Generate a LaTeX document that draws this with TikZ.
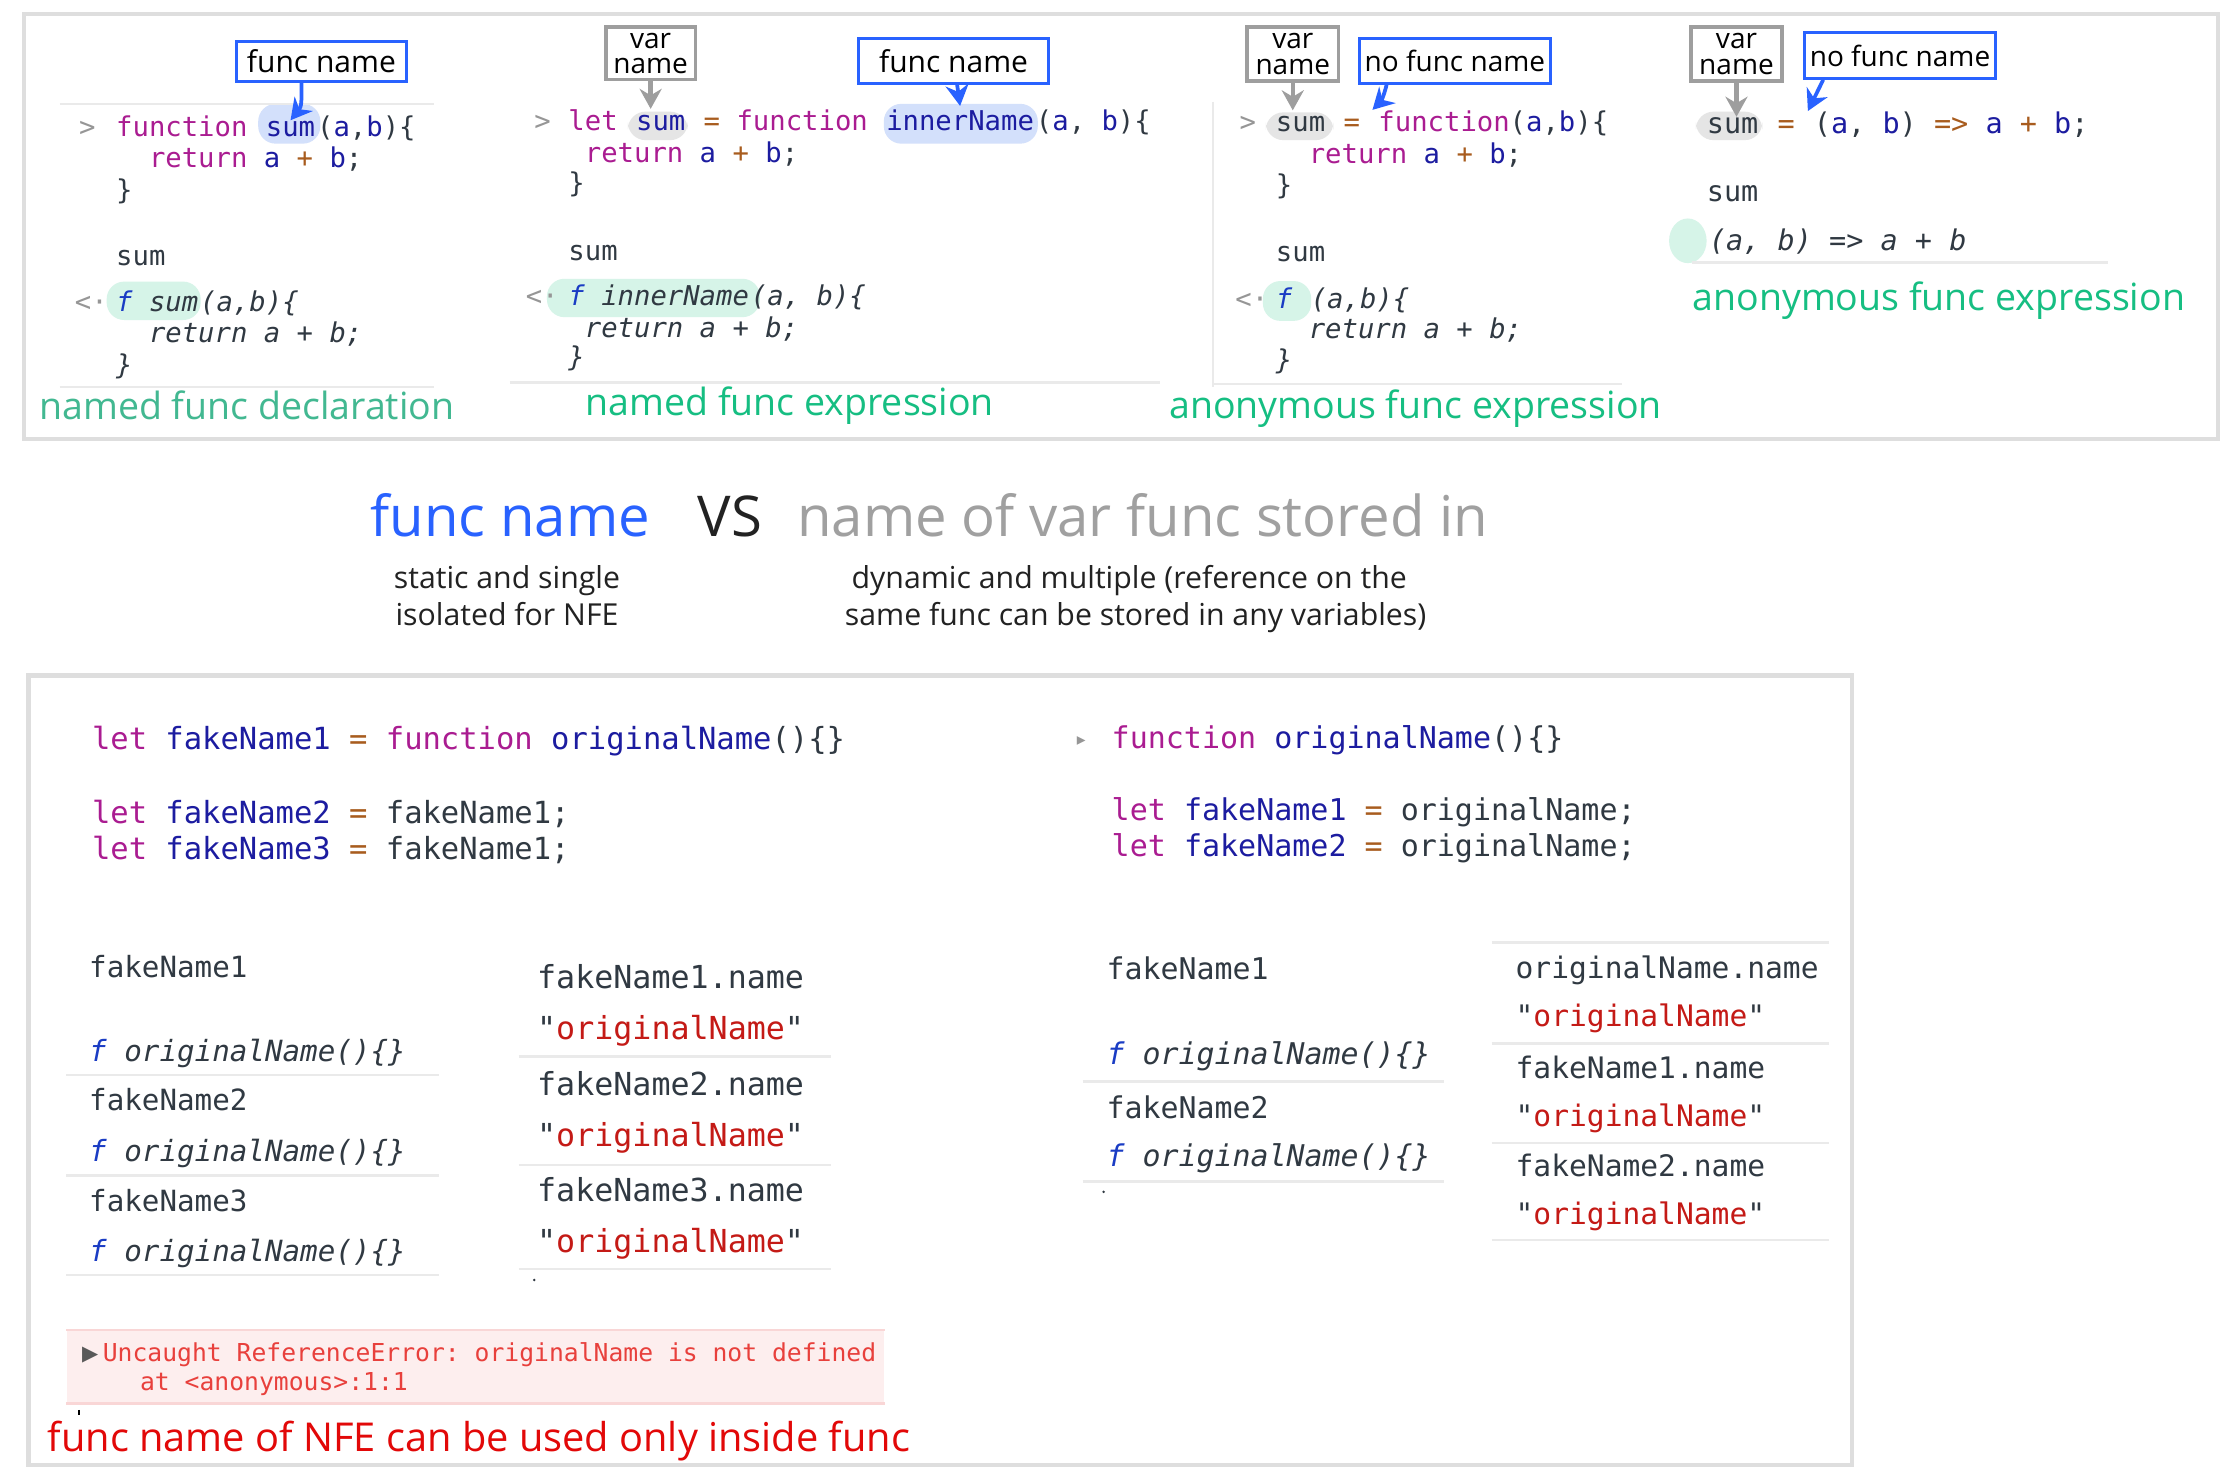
\documentclass[tikz,border=0pt]{standalone}
\usepackage{fontspec}
\setmainfont{Open Sans}
\setmonofont{DejaVu Sans Mono}
\newfontfamily\symfont{DejaVu Sans}
\usetikzlibrary{arrows.meta, positioning, calc, backgrounds}

\definecolor{fnblue}{RGB}{41,98,255}
\definecolor{boxgray}{RGB}{158,158,158}
\definecolor{framegray}{RGB}{222,222,222}
\definecolor{sepgray}{RGB}{234,234,234}
\definecolor{kwpink}{RGB}{170,28,145}
\definecolor{varblue}{RGB}{28,28,160}
\definecolor{opbrown}{RGB}{168,92,30}
\definecolor{codetxt}{RGB}{48,57,66}
\definecolor{fblue}{RGB}{26,60,196}
\definecolor{strred}{RGB}{196,26,22}
\definecolor{promptgray}{RGB}{150,150,150}
\definecolor{hlblue}{RGB}{211,224,251}
\definecolor{hlgray}{RGB}{229,229,229}
\definecolor{hlgreen}{RGB}{214,244,232}
\definecolor{lblgreenA}{RGB}{66,184,145}
\definecolor{lblgreen}{RGB}{22,190,130}
\definecolor{titlegray}{RGB}{160,160,160}
\definecolor{darktxt}{RGB}{34,34,34}
\definecolor{errred}{RGB}{232,64,60}
\definecolor{errfill}{RGB}{253,238,238}
\definecolor{errline}{RGB}{249,214,214}
\definecolor{nfered}{RGB}{226,8,8}

\newcommand{\kw}[1]{\textcolor{kwpink}{#1}}
\newcommand{\nm}[1]{\textcolor{varblue}{#1}}
\newcommand{\op}[1]{\textcolor{opbrown}{#1}}
\newcommand{\strv}[1]{"\textcolor{strred}{#1}"}
\newcommand{\fsym}{\textcolor{fblue}{f}}
\newcommand{\tsp}{\ \null}

\begin{document}
\begin{tikzpicture}[
    x=0.01cm, y=-0.01cm,
    code/.style={inner sep=0pt, anchor=base west, text=codetxt,
      font=\ttfamily\fontsize{#1}{#1}\selectfont},
    code/.default=5.45,
    res/.style={code=#1, font=\ttfamily\itshape\fontsize{#1}{#1}\selectfont},
    res/.default=5.45,
    prompt/.style={code=#1, text=promptgray},
    prompt/.default=5.45,
    fnbox/.style={draw=fnblue, line width=0.6pt, fill=white, inner sep=0pt,
      font=\fontsize{6}{6}\selectfont},
    nofnbox/.style={fnbox, font=\fontsize{5.6}{5.6}\selectfont},
    varbox/.style={draw=boxgray, line width=0.7pt, fill=white, inner sep=0pt,
      align=center, font=\fontsize{5.6}{5.1}\selectfont},
    bluearr/.style={-{Stealth[length=4.2pt, width=4.6pt]}, draw=fnblue, line width=0.75pt},
    grayarr/.style={-{Stealth[length=4pt, width=4.4pt]}, draw=boxgray, line width=0.9pt},
    lbl/.style={inner sep=0pt, anchor=base west, font=\fontsize{7.5}{7.5}\selectfont},
    headline/.style={inner sep=0pt, anchor=base west, font=\fontsize{11.25}{11.25}\selectfont},
    note/.style={inner sep=0pt, anchor=base, text=darktxt, font=\fontsize{6.05}{6.05}\selectfont},
    panelframe/.style={draw=framegray, line width=0.85pt},
    sepline/.style={draw=sepgray, line width=0.5pt},
    hl/.style={rounded corners=3.5pt},
    errbox/.style={fill=errfill, inner sep=0pt, minimum width=5.743cm, minimum height=0.5cm},
    errtxt/.style={code=4.94, text=errred}
  ]
  \useasboundingbox (0,0) rectangle (1568,1041);

  % ===== Top panel =====
  \draw[panelframe] (17,10) rectangle (1559.5,308.5);

  % ----- named func declaration -----
  \draw[sepline] (42,73) -- (305,73);
  \node[fnbox, minimum width=1.2cm, minimum height=0.28cm] (p1fn) at (226,43) {func name};
  \node[prompt] (p1pr) at (55,96) {>};
  \node[code] (p1kw) at (81,96) {\kw{function}\tsp};
  \node[code] (p1sum) at (p1kw.base east) {\nm{sum}};
  \node[code] (p1args) at (p1sum.base east) {(\nm{a},\nm{b})\{};
  \node[code] (p1ret) at (81,118) {\ \ \kw{return} \nm{a} \op{+} \nm{b};};
  \node[code] (p1end) at (81,140) {\}};
  \node[code] (p1call) at (81,187) {sum};
  \node[prompt] (p1pr2) at (52,219) {<·};
  \node[res] (p1fsum) at (81,219) {\fsym\ sum};
  \node[res] (p1fargs) at (p1fsum.base east) {(a,b)\{};
  \node[res] (p1fret) at (81,241) {\ \ return a + b;};
  \node[res] (p1fend) at (81,263) {\}};
  \draw[sepline] (42,272) -- (305,272);
  \node[lbl, text=lblgreenA] (p1lbl) at (27,295) {named func declaration};
  \draw[bluearr] ([xshift=-0.14cm]p1fn.south) .. controls +(0,14) and +(8,-10) .. (p1sum.north);

  % ----- named func expression -----
  \node[varbox, minimum width=0.63cm, minimum height=0.37cm] (p2var) at (457.5,37.5) {var\\name};
  \node[fnbox, minimum width=1.33cm, minimum height=0.316cm] (p2fn) at (670.5,42.8) {func name};
  \node[prompt] (p2pr) at (375,91.5) {>};
  \node[code] (p2let) at (399,91.5) {\kw{let}\tsp};
  \node[code] (p2sum) at (p2let.base east) {\nm{sum}};
  \node[code] (p2mid) at (p2sum.base east) {\ \op{=} \kw{function}\tsp};
  \node[code] (p2inner) at (p2mid.base east) {\nm{innerName}};
  \node[code] (p2args) at (p2inner.base east) {(\nm{a}, \nm{b})\{};
  \node[code] (p2ret) at (399,114) {\ \kw{return} \nm{a} \op{+} \nm{b};};
  \node[code] (p2end) at (399,135) {\}};
  \node[code] (p2call) at (399,183) {sum};
  \node[prompt] (p2pr2) at (369,215) {<·};
  \node[res] (p2finner) at (399,215) {\fsym\ innerName};
  \node[res] (p2fargs) at (p2finner.base east) {(a, b)\{};
  \node[res] (p2fret) at (399,237) {\ return a + b;};
  \node[res] (p2fend) at (399,258) {\}};
  \draw[sepline] (358.6,269) -- (815.6,269);
  \node[lbl, text=lblgreen] (p2lbl) at (411,292) {named func expression};
  \draw[grayarr] (p2var.south) -- ([yshift=1pt]p2var.south |- p2sum.north);
  \draw[bluearr] ([xshift=0.025cm]p2fn.south) -- ([yshift=0.5pt]p2inner.north);

  % ----- anonymous func expression -----
  \draw[sepline] (853,71.5) -- (853,272);
  \node[varbox, minimum width=0.64cm, minimum height=0.38cm] (p3var) at (909,38) {var\\name};
  \node[nofnbox, minimum width=1.34cm, minimum height=0.316cm] (p3nofn) at (1023,42.8) {no func name};
  \node[prompt] (p3pr) at (871,92.5) {>};
  \node[code] (p3sum) at (896.5,92.5) {sum};
  \node[code] (p3mid) at (p3sum.base east) {\ \op{=}\tsp};
  \node[code] (p3fun) at (p3mid.base east) {\kw{function}(\nm{a},\nm{b})\{};
  \node[code] (p3ret) at (896.5,115) {\ \ \kw{return} \nm{a} \op{+} \nm{b};};
  \node[code] (p3end) at (896.5,137) {\}};
  \node[code] (p3call) at (896.5,184) {sum};
  \node[prompt] (p3pr2) at (868,217) {<·};
  \node[res] (p3f) at (896.5,217) {\fsym};
  \node[res] (p3fargs) at (p3f.base east) {\ (a,b)\{};
  \node[res] (p3fret) at (896.5,238) {\ \ return a + b;};
  \node[res] (p3fend) at (896.5,260) {\}};
  \draw[sepline] (853,270) -- (1140.5,270);
  \node[lbl, text=lblgreen] (p3lbl) at (821.5,294) {anonymous func expression};
  \draw[grayarr] (p3var.south) -- ([yshift=1pt]p3var.south |- p3sum.north);
  \draw[bluearr] ([xshift=-0.48cm]p3nofn.south) .. controls +(-2,8) and +(6,-6) .. ([xshift=-1pt]p3fun.north west);

  % ----- arrow func expression -----
  \node[varbox, minimum width=0.64cm, minimum height=0.38cm] (p4var) at (1221,38) {var\\name};
  \node[nofnbox, minimum width=1.34cm, minimum height=0.32cm] (p4nofn) at (1336,39) {no func name};
  \node[code=5.7] (p4sum) at (1199.5,94) {sum};
  \node[code=5.7] (p4mid) at (p4sum.base east) {\ \op{=}\tsp};
  \node[code=5.7] (p4fun) at (p4mid.base east) {(\nm{a}, \nm{b}) \op{=>} \nm{a} \op{+} \nm{b};};
  \node[code=5.7] (p4call) at (1199.5,142) {sum};
  \node[res=5.7] (p4res) at (1201,176) {(a, b) => a + b};
  \draw[sepline] (1190,184.5) -- (1482,184.5);
  \node[lbl, text=lblgreen] (p4lbl) at (1189.4,218) {anonymous func expression};
  \draw[grayarr] (p4var.south) -- (p4var.south |- p4sum.north);
  \draw[bluearr] ([xshift=-0.54cm]p4nofn.south) -- ([xshift=-1pt]p4fun.north west);

  % ===== Comparison =====
  \node[headline, text=fnblue] (tfn) at (260,377.4) {func name};
  \node[headline, text=darktxt] (tvs) at (490,377.4) {VS};
  \node[headline, text=titlegray] (tvar) at (560,377.4) {name of var func stored in};
  \node[note] (nfn1) at (356.5,413.5) {static and single};
  \node[note] (nfn2) at (356.5,440) {isolated for NFE};
  \node[note] (nvar1) at (794,413.5) {dynamic and multiple (reference on the};
  \node[note] (nvar2) at (798.5,440) {same func can be stored in any variables)};

  % ===== Bottom panel =====
  \draw[panelframe] (20,475) rectangle (1302,1030);

  % ----- NFE side -----
  \node[code=6.1] (c1a) at (64,526.7) {\kw{let} \nm{fakeName1} \op{=} \kw{function} \nm{originalName}()\{\}};
  \node[code=6.1] (c1b) at (64,578.7) {\kw{let} \nm{fakeName2} \op{=} fakeName1;};
  \node[code=6.1] (c1c) at (64,604.2) {\kw{let} \nm{fakeName3} \op{=} fakeName1;};

  \node[code=5.84] (l1n) at (62,687) {fakeName1};
  \node[res=5.84] (l1f) at (62,746.5) {\fsym\ originalName()\{\}};
  \draw[sepline] (46.5,756) -- (309,756);
  \node[code=5.84] (l2n) at (62,781) {fakeName2};
  \node[res=5.84] (l2f) at (62,816.8) {\fsym\ originalName()\{\}};
  \draw[sepline] (46.5,826.7) -- (309,826.7);
  \node[code=5.84] (l3n) at (62,852) {fakeName3};
  \node[res=5.84] (l3f) at (62,886.7) {\fsym\ originalName()\{\}};
  \draw[sepline] (46.5,896.5) -- (309,896.5);

  \node[code=6.33] (m1n) at (377,694.8) {fakeName1.name};
  \node[code=6.33] (m1v) at (377,730.7) {\strv{originalName}};
  \draw[sepline] (364.6,743) -- (584,743);
  \node[code=6.33] (m2n) at (377,770) {fakeName2.name};
  \node[code=6.33] (m2v) at (377,806.3) {\strv{originalName}};
  \draw[sepline] (364.6,819) -- (584,819);
  \node[code=6.33] (m3n) at (377,845) {fakeName3.name};
  \node[code=6.33] (m3v) at (377,880.8) {\strv{originalName}};
  \draw[sepline] (364.6,892.3) -- (584,892.3);
  \fill[codetxt] (375.6,900) circle (1);

  \node[errbox] (err) at (334.45,961) {};
  \draw[errline, line width=0.5pt] (err.north west) -- (err.north east);
  \draw[errline, line width=0.5pt] (err.south west) -- (err.south east);
  \node[inner sep=0pt, anchor=base west, text=black!65, font=\symfont\fontsize{4.2}{4.2}\selectfont] (errtri) at (57,956.5) {▶};
  \node[errtxt] (err1) at (71.6,957.4) {Uncaught ReferenceError: originalName is not defined};
  \node[errtxt] (err2) at (97.8,977.8) {at <anonymous>:1:1};
  \draw[black, line width=0.3pt] (55.4,991.4) -- (55.4,995);
  \node[inner sep=0pt, anchor=base west, text=nfered, font=\fontsize{7.95}{7.95}\selectfont] (nfe) at (33,1020.7) {func name of NFE can be used only inside func};

  % ----- FD side -----
  \node[inner sep=0pt, anchor=base west, text=promptgray, font=\symfont\fontsize{3.5}{3.5}\selectfont] (c2tri) at (756.5,524) {▸};
  \node[code=6.0] (c2a) at (781,526.2) {\kw{function} \nm{originalName}()\{\}};
  \node[code=6.0] (c2b) at (781,576.6) {\kw{let} \nm{fakeName1} \op{=} originalName;};
  \node[code=6.0] (c2c) at (781,602.4) {\kw{let} \nm{fakeName2} \op{=} originalName;};

  \node[code=5.98] (r1n) at (777.4,689) {fakeName1};
  \node[res=5.98] (r1f) at (777.4,748.8) {\fsym\ originalName()\{\}};
  \draw[sepline] (761.4,760.6) -- (1015.6,760.6);
  \node[code=5.98] (r2n) at (777.4,786.3) {fakeName2};
  \node[res=5.98] (r2f) at (777.4,820.3) {\fsym\ originalName()\{\}};
  \draw[sepline] (761.4,830.9) -- (1015.6,830.9);
  \fill[codetxt] (776,838) circle (1);

  \draw[sepline] (1049,662.8) -- (1286,662.8);
  \node[code=5.92] (s0n) at (1065,688) {originalName.name};
  \node[code=5.92] (s0v) at (1065,722) {\strv{originalName}};
  \draw[sepline] (1049,733.6) -- (1286,733.6);
  \node[code=5.92] (s1n) at (1065,758.2) {fakeName1.name};
  \node[code=5.92] (s1v) at (1065,792.2) {\strv{originalName}};
  \draw[sepline] (1049,803.5) -- (1286,803.5);
  \node[code=5.92] (s2n) at (1065,827.4) {fakeName2.name};
  \node[code=5.92] (s2v) at (1065,861.3) {\strv{originalName}};
  \draw[sepline] (1049,872) -- (1286,872);

  % ===== Highlights =====
  \begin{scope}[on background layer]
    \fill[white] (0,0) rectangle (1568,1041);
    \fill[hlblue, hl] ($(p1sum.base west)+(-4.7,-23)$) rectangle ($(p1sum.base east)+(3,5)$);
    \fill[hlgreen, hl] ($(p1fsum.base west)+(-6,-21)$) rectangle ($(p1fsum.base east)+(1,6)$);
    \fill[hlgray, hl] ($(p2sum.base west)+(-5,-13)$) rectangle ($(p2sum.base east)+(1,7)$);
    \fill[hlblue, hl] ($(p2inner.base west)+(-1,-18.5)$) rectangle ($(p2inner.base east)+(2,9.5)$);
    \fill[hlgreen, hl] ($(p2finner.base west)+(-14.4,-19)$) rectangle ($(p2finner.base east)+(7,8)$);
    \fill[hlgray, hl] ($(p3sum.base west)+(-6.5,-13.5)$) rectangle ($(p3sum.base east)+(5,6)$);
    \fill[hlgreen, hl] ($(p3f.base west)+(-8.5,-19.4)$) rectangle ($(p3f.base east)+(12.5,8.6)$);
    \fill[hlgray, hl] ($(p4sum.base west)+(-7,-15.5)$) rectangle ($(p4sum.base east)+(2,4.5)$);
    \fill[hlgreen] ($(p4res.base west)+(-14.2,-6.7)$) ellipse [x radius=13.2, y radius=15.7];
  \end{scope}
\end{tikzpicture}
\end{document}
